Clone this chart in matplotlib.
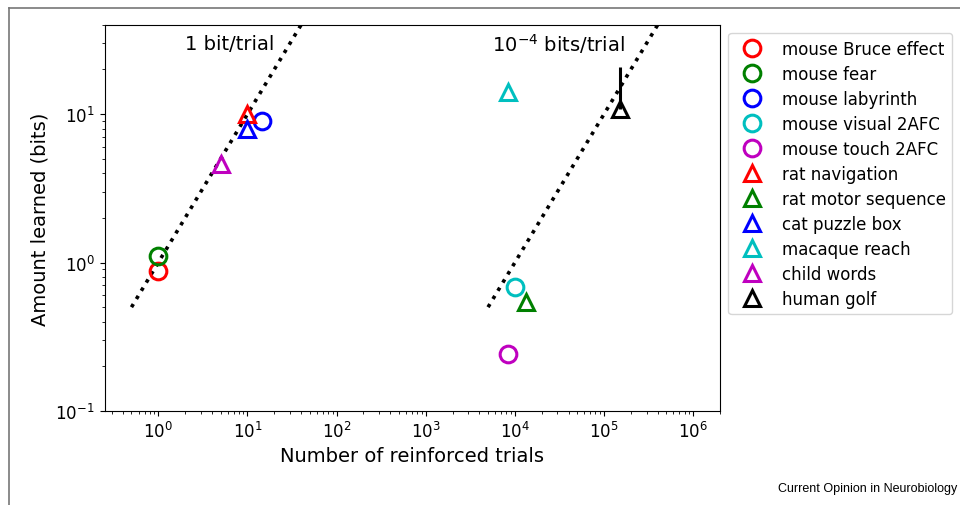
import numpy as np
import matplotlib
matplotlib.use("Agg")
import matplotlib.pyplot as plt
from matplotlib.lines import Line2D

# data
labels = ['mouse Bruce effect', 'mouse fear', 'mouse labyrinth', 'mouse visual 2AFC',
          'mouse touch 2AFC', 'rat navigation', 'rat motor sequence', 'cat puzzle box',
          'macaque reach', 'child words', 'human golf']
markers = ['o', 'o', 'o', 'o', 'o', '^', '^', '^', '^', '^', '^']
colors = ['r', 'g', 'b', 'c', 'm', 'r', 'g', 'b', 'c', 'm', 'k']
trials = [1, 1, 14.5, 1.0e4, 8300, 10, 13500, 10, 8300, 5.1, 1.5e5]
bits = [0.88, 1.1, 9.0, 0.68, 0.24, 10.0, 0.54, 8.0, 14.0, 4.6, 10.8]
golf_err_up = 10.0

# reference lines (bits = rate * trials)
rate1_x = [0.5, 40]
rate2_x = [5e3, 4e5]

fig = plt.figure(figsize=(9.6, 5.06), dpi=100)
ax = fig.add_axes([0.109, 0.186, 0.641, 0.763])

ax.plot(rate1_x, [1.0 * v for v in rate1_x], ':', color='k', lw=2.6)
ax.plot(rate2_x, [1e-4 * v for v in rate2_x], ':', color='k', lw=2.6)

for i in range(len(labels)):
    if labels[i] == 'human golf':
        ax.errorbar(trials[i], bits[i], yerr=[[0], [golf_err_up]], fmt='none',
                    ecolor=colors[i], elinewidth=2.2, capsize=0)
    ax.plot(trials[i], bits[i], marker=markers[i], ls='none', markersize=12,
            markerfacecolor='none', markeredgecolor=colors[i], markeredgewidth=2.2,
            label=labels[i])

ax.set_xscale('log')
ax.set_yscale('log')
ax.set_xlim(0.25, 2e6)
ax.set_ylim(0.1, 40)
ax.tick_params(labelsize=12)

ax.text(6.4, 30, '1 bit/trial', fontsize=14, ha='center', va='center')
ax.text(3.1e4, 30, r'$10^{-4}$ bits/trial', fontsize=14, ha='center', va='center')

ax.set_xlabel('Number of reinforced trials', fontsize=14)
ax.set_ylabel('Amount learned (bits)', fontsize=14)

ax.legend(loc='upper left', bbox_to_anchor=(1.0, 1.0), fontsize=12,
          labelspacing=0.42, handletextpad=0.8)

fig.text(0.997, 0.033, 'Current Opinion in Neurobiology', fontsize=9,
         family='Liberation Sans', ha='right', va='center')

# thin grey frame around the figure
fig.add_artist(Line2D([9 / 960, 9 / 960], [0, 1 - 9 / 506], color='#777777',
                      lw=1.2, transform=fig.transFigure))
fig.add_artist(Line2D([9 / 960, 1], [1 - 9 / 506, 1 - 9 / 506], color='#777777',
                      lw=1.2, transform=fig.transFigure))

fig.savefig('out.png', dpi=100)
